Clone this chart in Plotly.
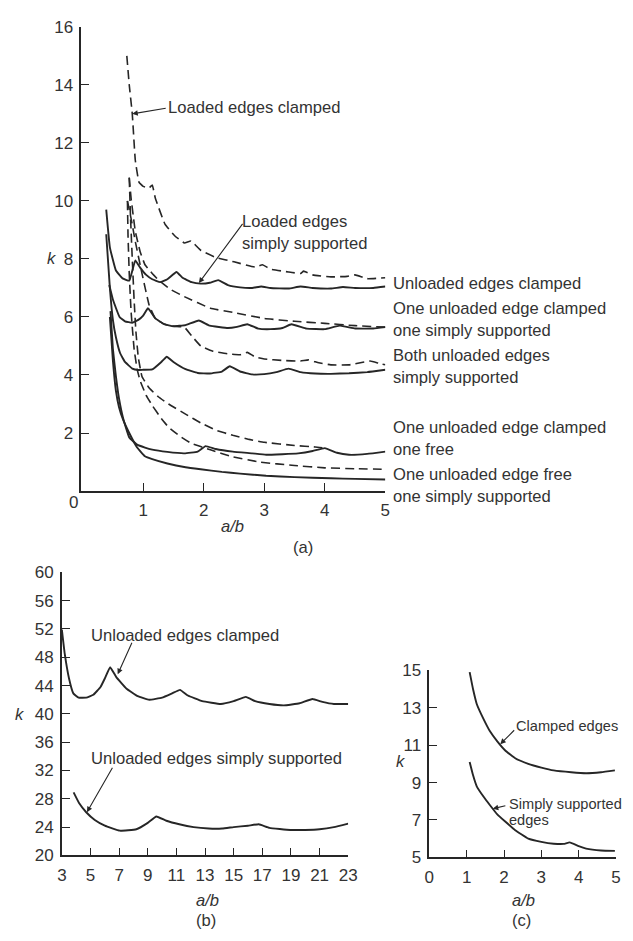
import plotly.graph_objects as go

# page is 633x941; the browser body keeps an 8px margin, so the figure is 617x925 at (8,8)
PAGE_W, PAGE_H, OFF = 633, 941, 8
W, H = PAGE_W - 2 * OFF, PAGE_H - 2 * OFF

# ---------------- Panel (a) data ----------------
a_s1_x = [0.39, 0.45, 0.55, 0.66, 0.77, 0.87, 0.95, 1.05, 1.15, 1.28, 1.4, 1.55, 1.65, 1.8, 1.95, 2.1, 2.24, 2.4, 2.6, 2.8, 2.95, 3.1, 3.4, 3.6, 3.8, 4.1, 4.3, 4.5, 4.8, 5.0]
a_s1_k = [9.7, 8.4, 7.6, 7.33, 7.25, 7.95, 7.7, 7.45, 7.3, 7.2, 7.3, 7.55, 7.35, 7.2, 7.15, 7.18, 7.27, 7.1, 7.02, 7.0, 7.05, 7.0, 6.98, 7.05, 7.0, 6.98, 7.03, 7.0, 7.0, 7.05]

a_s2_x = [0.44, 0.5, 0.61, 0.7, 0.82, 0.92, 1.0, 1.08, 1.2, 1.35, 1.5, 1.7, 1.92, 2.1, 2.4, 2.55, 2.72, 2.9, 3.1, 3.3, 3.45, 3.7, 4.0, 4.25, 4.5, 4.8, 5.0]
a_s2_k = [7.1, 6.6, 6.0, 5.85, 5.8, 5.9, 6.05, 6.3, 5.95, 5.75, 5.68, 5.72, 5.88, 5.7, 5.62, 5.66, 5.75, 5.6, 5.58, 5.62, 5.75, 5.6, 5.58, 5.7, 5.6, 5.6, 5.65]

a_s3_x = [0.39, 0.45, 0.5, 0.55, 0.62, 0.7, 0.82, 0.92, 1.0, 1.15, 1.3, 1.39, 1.5, 1.7, 1.9, 2.1, 2.3, 2.43, 2.6, 2.8, 3.0, 3.2, 3.4, 3.6, 3.84, 4.1, 4.4, 4.7, 5.0]
a_s3_k = [8.85, 7.0, 5.9, 5.3, 4.75, 4.45, 4.22, 4.17, 4.18, 4.19, 4.45, 4.63, 4.45, 4.2, 4.07, 4.05, 4.12, 4.3, 4.12, 4.02, 4.03, 4.1, 4.22, 4.1, 4.05, 4.04, 4.06, 4.1, 4.18]

a_s4_x = [0.46, 0.5, 0.55, 0.6, 0.67, 0.77, 0.9, 1.03, 1.15, 1.4, 1.68, 1.9, 2.03, 2.2, 2.48, 2.8, 3.03, 3.3, 3.56, 3.8, 4.0, 4.2, 4.4, 4.7, 5.0]
a_s4_k = [6.2, 4.9, 3.95, 3.2, 2.5, 1.85, 1.6, 1.5, 1.43, 1.35, 1.3, 1.36, 1.55, 1.45, 1.36, 1.3, 1.25, 1.27, 1.3, 1.38, 1.48, 1.32, 1.25, 1.28, 1.36]

a_s5_x = [0.45, 0.5, 0.55, 0.6, 0.67, 0.77, 0.9, 1.03, 1.15, 1.4, 1.7, 1.95, 2.3, 2.6, 3.03, 3.5, 4.1, 4.5, 5.0]
a_s5_k = [6.0, 4.5, 3.45, 2.9, 2.45, 2.0, 1.5, 1.2, 1.1, 0.95, 0.82, 0.75, 0.66, 0.6, 0.53, 0.48, 0.44, 0.42, 0.40]

a_d1_x = [0.73, 0.77, 0.82, 0.87, 0.93, 1.0, 1.1, 1.15, 1.2, 1.36, 1.52, 1.68, 1.79, 1.95, 2.2, 2.5, 2.85, 2.97, 3.1, 3.4, 3.6, 3.65, 3.8, 4.1, 4.37, 4.5, 4.7, 5.0]
a_d1_k = [15.0, 14.0, 13.0, 11.4, 10.65, 10.5, 10.45, 10.55, 10.1, 9.2, 8.8, 8.55, 8.62, 8.3, 8.05, 7.9, 7.72, 7.8, 7.65, 7.55, 7.5, 7.58, 7.45, 7.38, 7.4, 7.45, 7.32, 7.35]

a_d2_x = [0.77, 0.8, 0.87, 0.95, 1.03, 1.15, 1.26, 1.45, 1.68, 2.11, 2.5, 3.0, 3.5, 4.0, 4.5, 5.0]
a_d2_k = [10.8, 10.1, 8.95, 8.25, 7.8, 7.5, 7.26, 6.95, 6.7, 6.3, 6.15, 5.95, 5.85, 5.78, 5.7, 5.65]

a_d3_x = [0.74, 0.8, 0.87, 0.98, 1.1, 1.2, 1.35, 1.5, 1.68, 1.8, 1.95, 2.15, 2.39, 2.6, 2.72, 2.85, 3.0, 3.3, 3.6, 3.73, 3.9, 4.1, 4.4, 4.65, 4.75, 4.9, 5.0]
a_d3_k = [10.0, 9.4, 8.6, 7.5, 6.4, 5.95, 5.75, 5.68, 5.65, 5.35, 5.0, 4.82, 4.73, 4.7, 4.78, 4.62, 4.55, 4.5, 4.48, 4.52, 4.42, 4.35, 4.35, 4.45, 4.48, 4.4, 4.35]

a_d4_x = [0.77, 0.79, 0.82, 0.85, 0.88, 0.92, 0.98, 1.1, 1.25, 1.42, 1.7, 1.95, 2.2, 2.48, 2.75, 3.0, 3.5, 3.84, 4.0]
a_d4_k = [10.8, 9.5, 8.0, 6.6, 5.5, 4.6, 3.95, 3.55, 3.25, 3.0, 2.65, 2.35, 2.1, 1.92, 1.78, 1.68, 1.57, 1.52, 1.48]

a_d5_x = [0.74, 0.75, 0.77, 0.8, 0.85, 0.9, 0.95, 1.05, 1.15, 1.3, 1.42, 1.6, 1.79, 2.11, 2.48, 2.92, 3.5, 4.0, 4.5, 5.0]
a_d5_k = [10.0, 8.8, 7.5, 6.2, 4.9, 4.2, 3.8, 3.3, 2.95, 2.5, 2.2, 1.9, 1.65, 1.42, 1.18, 1.0, 0.88, 0.8, 0.77, 0.75]

a_xticks = [1, 2, 3, 4, 5]
a_yticks = [2, 4, 6, 8, 10, 12, 14, 16]
a_origin_label = '0'

# ---------------- Panel (b) data ----------------
b_up_x = [3.0, 3.2, 3.5, 3.8, 4.17, 4.7, 5.2, 5.7, 6.0, 6.37, 6.8, 7.5, 8.3, 9.1, 10.0, 10.7, 11.25, 11.8, 12.8, 14.1, 15.0, 15.85, 16.5, 17.5, 18.5, 19.6, 20.5, 21.2, 22.0, 23.0]
b_up_k = [51.9, 48.5, 45.0, 42.9, 42.3, 42.3, 42.7, 43.8, 45.0, 46.6, 45.2, 43.6, 42.5, 42.0, 42.3, 42.9, 43.4, 42.6, 41.8, 41.4, 41.8, 42.4, 41.8, 41.4, 41.2, 41.5, 42.1, 41.7, 41.4, 41.4]
b_lo_x = [3.82, 4.2, 4.7, 5.3, 6.0, 7.05, 8.2, 9.0, 9.6, 10.3, 11.2, 12.2, 13.25, 14.2, 15.0, 16.0, 16.75, 17.5, 18.95, 20.0, 21.0, 22.0, 23.0]
b_lo_k = [28.9, 27.4, 26.1, 25.0, 24.2, 23.5, 23.7, 24.6, 25.5, 24.9, 24.4, 24.0, 23.8, 23.8, 24.0, 24.2, 24.4, 23.9, 23.6, 23.6, 23.7, 24.0, 24.5]
b_xticks = [3, 5, 7, 9, 11, 13, 15, 17, 19, 21, 23]
b_yticks = [20, 24, 28, 32, 36, 40, 44, 48, 52, 56, 60]

# ---------------- Panel (c) data ----------------
c_cl_x = [1.08, 1.17, 1.27, 1.45, 1.62, 1.82, 2.04, 2.3, 2.65, 3.0, 3.33, 3.8, 4.2, 4.6, 4.97]
c_cl_k = [14.9, 14.0, 13.2, 12.4, 11.75, 11.2, 10.7, 10.3, 10.0, 9.8, 9.65, 9.55, 9.5, 9.55, 9.65]
c_ss_x = [1.08, 1.17, 1.27, 1.45, 1.62, 1.82, 2.04, 2.3, 2.65, 3.0, 3.33, 3.6, 3.76, 4.0, 4.2, 4.6, 4.97]
c_ss_k = [10.1, 9.4, 8.8, 8.25, 7.8, 7.3, 6.9, 6.45, 6.0, 5.83, 5.73, 5.72, 5.8, 5.6, 5.47, 5.37, 5.35]
c_xticks = [0, 1, 2, 3, 4, 5]
c_yticks = [5, 7, 9, 11, 13, 15]

# ---------------- layout geometry (page pixels) ----------------
A = dict(x0=78, x1=389, y0=492, y1=18, xr=[-0.02, 5.0], yr=[0, 16])
B = dict(x0=58, x1=351, y0=864, y1=575, xr=[3, 23], yr=[20, 60])
C = dict(x0=434, x1=625, y0=866, y1=675, xr=[0, 5.0], yr=[5, 15])

def px(xp, yp):
    return (xp - OFF) / W, 1 - (yp - OFF) / H

def d2p(P, x, y):
    xp = P['x0'] + (x - P['xr'][0]) / (P['xr'][1] - P['xr'][0]) * (P['x1'] - P['x0'])
    yp = P['y0'] + (y - P['yr'][0]) / (P['yr'][1] - P['yr'][0]) * (P['y1'] - P['y0'])
    return xp, yp

INK = '#262626'
FONT = 'Liberation Sans, Arial, sans-serif'
solid = dict(color=INK, width=1.9)
dashed = dict(color=INK, width=1.6, dash='9px,5px')

fig = go.Figure()

def add(x, y, line, xa, ya):
    fig.add_trace(go.Scatter(x=x, y=y, mode='lines', line=dict(line, shape='spline', smoothing=0.3),
                             xaxis=xa, yaxis=ya, showlegend=False, hoverinfo='skip', cliponaxis=False))

for xs, ks in [(a_s1_x, a_s1_k), (a_s2_x, a_s2_k), (a_s3_x, a_s3_k), (a_s4_x, a_s4_k), (a_s5_x, a_s5_k)]:
    add(xs, ks, solid, 'x', 'y')
for xs, ks in [(a_d1_x, a_d1_k), (a_d2_x, a_d2_k), (a_d3_x, a_d3_k), (a_d4_x, a_d4_k), (a_d5_x, a_d5_k)]:
    add(xs, ks, dashed, 'x', 'y')
add(b_up_x, b_up_k, solid, 'x2', 'y2')
add(b_lo_x, b_lo_k, solid, 'x2', 'y2')
add(c_cl_x, c_cl_k, solid, 'x3', 'y3')
add(c_ss_x, c_ss_k, solid, 'x3', 'y3')

def clamp01(v):
    return min(1.0, max(0.0, v))

def axis(P, horizontal, anchor, tickvals):
    if horizontal:
        dom = [clamp01((P['x0'] - OFF) / W), clamp01((P['x1'] - OFF) / W)]
        rng = P['xr']
    else:
        dom = [clamp01(1 - (P['y0'] - OFF) / H), clamp01(1 - (P['y1'] - OFF) / H)]
        rng = P['yr']
    return dict(domain=dom, range=rng, anchor=anchor, showline=True, linecolor=INK, linewidth=1.5,
                ticks='inside', ticklen=8, tickwidth=1.3, tickcolor=INK, tickvals=tickvals,
                ticktext=[str(v) for v in tickvals], showgrid=False, zeroline=False,
                tickfont=dict(family=FONT, size=17, color='#333'), ticklabelstandoff=3,
                ticklabeloverflow='allow', fixedrange=True)

fig.update_layout(
    width=W, height=H, margin=dict(l=0, r=0, t=0, b=0),
    paper_bgcolor='white', plot_bgcolor='rgba(0,0,0,0)',
    xaxis=axis(A, True, 'y', a_xticks), yaxis=axis(A, False, 'x', a_yticks),
    xaxis2=axis(B, True, 'y2', b_xticks), yaxis2=axis(B, False, 'x2', b_yticks),
    xaxis3=axis(C, True, 'y3', c_xticks), yaxis3=axis(C, False, 'x3', c_yticks),
)

ann = []
def text(s, xp, yp, xanchor='left', size=16.6, italic=False):
    if xanchor == 'left':
        xp -= 2
    x, y = px(xp, yp)
    f = dict(family=FONT, size=size, color='#333')
    if italic:
        f['style'] = 'italic'
    ann.append(dict(text=s, x=x, y=y, xref='paper', yref='paper', xanchor=xanchor, yanchor='middle',
                    showarrow=False, font=f, align='left'))

def arrow(P, xr, yr, hx, hy, tailx, taily):
    hxp, hyp = d2p(P, hx, hy)
    ann.append(dict(text='', x=hx, y=hy, xref=xr, yref=yr, ax=tailx - hxp, ay=taily - hyp,
                    axref='pixel', ayref='pixel', showarrow=True, arrowhead=2, arrowsize=1,
                    arrowwidth=1.1, arrowcolor=INK, standoff=0))

# panel (a) text
text(a_origin_label, 70, 504, 'center', size=17)
text('Loaded edges clamped', 167, 100)
arrow(A, 'x', 'y', 0.82, 13.0, 165, 101)
text('Loaded edges<br>simply supported', 242, 228)
arrow(A, 'x', 'y', 1.92, 7.17, 243, 219)
text('Unloaded edges clamped', 397, 280)
text('One unloaded edge clamped<br>one simply supported', 397, 317)
text('Both unloaded edges<br>simply supported', 397, 365)
text('One unloaded edge clamped<br>one free', 397, 438)
text('One unloaded edge free<br>one simply supported', 397, 486)
text('k', 47, 255, 'center', italic=True)
text('a/b', 233, 528, 'center', italic=True)
text('(a)', 305, 550, 'center')

# panel (b) text
text('Unloaded edges clamped', 88, 639)
arrow(B, 'x2', 'y2', 6.9, 45.6, 130, 646)
text('Unloaded edges simply supported', 88, 765)
arrow(B, 'x2', 'y2', 4.75, 26.1, 110, 774)
text('k', 15, 720, 'center', italic=True)
text('a/b', 207, 910, 'center', italic=True)
text('(b)', 205, 930, 'center')

# panel (c) text
text('Clamped edges', 523, 732, size=14.6)
arrow(C, 'x3', 'y3', 1.9, 11.05, 522, 735)
text('Simply supported', 515, 812, size=14.6)
text('edges', 515, 828, size=14.6)
arrow(C, 'x3', 'y3', 1.7, 7.6, 513, 813)
text('k', 405, 768, 'center', italic=True)
text('a/b', 530, 910, 'center', italic=True)
text('(c)', 528, 930, 'center')

fig.update_layout(annotations=ann)
fig.write_html('out.html')
